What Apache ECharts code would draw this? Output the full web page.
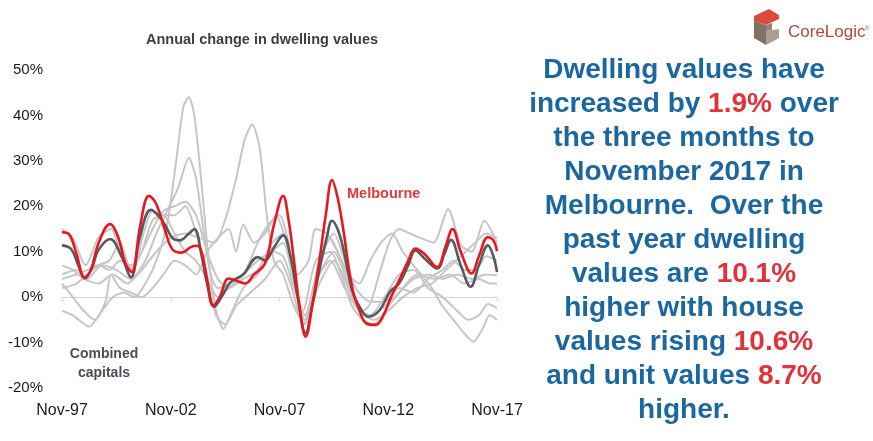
<!DOCTYPE html>
<html><head><meta charset="utf-8">
<script src="https://cdn.jsdelivr.net/npm/echarts@6/dist/echarts.min.js"></script>
<style>html,body{margin:0;padding:0;background:#fff}#c{width:873px;height:441px}</style>
</head><body><div id="c"></div>
<script>
// x = months since Nov-97
const xTickLabels = ['Nov-97', 'Nov-02', 'Nov-07', 'Nov-12', 'Nov-17'];
const yTickLabels = ['-20%', '-10%', '0%', '10%', '20%', '30%', '40%', '50%'];

const melbourne = [[0,14.3],[4,13.8],[8,9.5],[12.5,4.3],[16,6],[20,11.7],[26.5,16.1],[31,13.2],[35,7.4],[38.5,5.5],[43,15.4],[48,22.3],[52,20.5],[57,14.5],[61,10.5],[66,9.8],[71,11],[74.5,11.3],[77,10],[80,4],[83.5,-1.9],[87,0],[92,4.1],[97,3.5],[101,3.0],[106,5],[112,7.4],[117,16],[122,22.3],[125,17],[128,8],[131,-2],[134.4,-8.7],[138,-2],[142,8.1],[145.5,18],[149,25.8],[152,22],[155,15.4],[160,2.3],[164,-2.8],[168,-5.8],[173,-6.1],[177,-4.3],[181.5,0],[186,3.7],[191,8],[195,10.7],[200,9.5],[207,6.6],[211.5,11],[215.5,15],[220,10],[226,5.2],[230,9],[235,13.2],[238,12.5],[240,10.1]];

const combined = [[0,11.4],[5,10.6],[9,7],[12.7,4.1],[17,7],[20,10.3],[26.5,12.8],[33,8.8],[38,4.4],[43,13.2],[49,19.2],[53,18],[57,15.8],[61,13],[65,12.5],[70,14],[73,15],[77,9.2],[80,3],[84,-2.1],[88,0],[93,3.3],[100,5],[108,8.8],[112,8.1],[117,11],[122,13.6],[126,9],[130,0],[134.4,-7.9],[138,-2],[142,6],[146,13],[149,16.8],[152,15],[155,11],[160,1.5],[164,-2],[169,-4.3],[175,-3],[181,1.2],[186,3],[191,7],[195,10.3],[200,8.5],[207,6.3],[211,9.5],[214.6,12.6],[220,7],[225.5,2.3],[230,7],[235,11.4],[238,9],[240,5.5]];

const sydney = [[0,15],[6,13],[13,7],[20,13],[27,15],[33,9],[39,6],[45,14],[50,19],[56,18],[62,18],[68,20],[74,14],[80,5],[85,-4],[90,-6],[96,-2],[104,1],[112,4],[120,8],[126,3],[133,-6],[140,4],[148,13],[154,8],[160,0],[166,-3],[170,-1.5],[175,5],[181,12.5],[186,15],[192,14],[198,13],[205,12],[213,19.4],[220,11.5],[226,10],[233,16.8],[240,12]];

const brisbane = [[0,5],[8,6],[14,4],[22,7],[30,6],[38,4],[46,8],[52,14],[58,19],[64,24],[70,30.7],[74,26],[78,15],[82,5],[86,2],[92,3],[100,5],[108,12],[114,16],[120,18],[126,10],[133,-3],[140,8],[148,10],[154,5],[160,-2],[166,-5],[172,-6],[180,-2],[188,2],[196,5],[206,4],[214,5],[222,3],[230,4],[236,3],[240,3]];

const hobart = [[0,-3],[6,-4],[15,-6.5],[22,-3],[28,0],[34,1],[40,0],[46,3],[52,8],[58,16],[63,30],[67,42],[70,44],[73,40],[77,25],[81,8],[85,-3],[89,-7],[94,-3],[100,2],[108,5],[116,10],[122,12],[128,3],[134,-4],[142,5],[148,8],[156,2],[164,-3],[172,-5],[180,-3],[188,0],[196,2],[204,3],[212,6],[220,9],[228,12],[234,14],[240,13]];

const perth = [[0,7],[6,6],[12,4],[20,3],[28,5],[36,3],[44,6],[52,10],[60,13],[68,14],[76,13],[84,12],[90,17],[96,26],[101,35],[105,38],[109,33],[113,18],[117,8],[122,5],[128,-2],[134,-6],[142,5],[150,10],[156,5],[162,-2],[170,-4],[178,0],[186,5],[194,6],[202,2],[210,0],[218,-3],[224,-5],[230,-4],[235,-1.5],[240,-2.4]];

const adelaide = [[0,4],[8,5],[14,6],[20,7],[26,6],[32,8],[38,7],[44,10],[50,15],[56,19],[62,20],[68,21],[74,18],[80,10],[86,4],[92,2],[100,4],[108,6],[116,12],[122,14],[128,4],[134,-5],[142,3],[150,8],[156,4],[162,-2],[170,-4],[178,-2],[186,1],[194,4],[202,5],[210,4],[218,5],[226,4],[234,5],[240,4.8]];

const darwin = [[0,3],[6,0],[12,-3],[18,-5],[24,-1],[27,5],[32,2],[38,1],[44,0],[50,2],[56,5],[62,8],[68,7],[74,5],[80,10],[86,13],[92,15],[96,10],[100,16],[106,12],[112,14],[118,18],[124,12],[130,5],[136,8],[140,15],[146,14],[152,10],[158,5],[164,3],[170,8],[176,12],[182,14],[188,10],[196,6],[204,2],[210,-2],[216,-5],[222,-8],[227,-9.8],[232,-7],[236,-4],[240,-5]];

const canberra = [[0,2],[8,3],[14,5],[20,7],[26,8],[32,12],[38,6],[44,10],[50,17],[56,18],[62,14],[68,10],[74,8],[80,4],[86,0],[92,2],[100,5],[108,8],[116,10],[122,9],[128,2],[134,-4],[142,8],[150,14],[156,8],[162,2],[170,-1],[178,-1],[186,2],[194,1],[202,4],[210,6],[216,8],[222,6],[228,6],[234,9],[240,8]];

const grays = [sydney, brisbane, hobart, perth, adelaide, darwin, canberra];

const chart = echarts.init(document.getElementById('c'));
const FONT = 'Liberation Sans';

const series = grays.map(d => ({
  type: 'line', data: d, smooth: 0.25, symbol: 'none', silent: true,
  lineStyle: { color: '#c6c6c6', width: 2 }, z: 2
}));
series.push({ type: 'line', data: combined, smooth: 0.4, symbol: 'none', silent: true,
  lineStyle: { color: '#565a5e', width: 2.6 }, z: 3 });
series.push({ type: 'line', data: melbourne, smooth: 0.4, symbol: 'none', silent: true,
  lineStyle: { color: '#e8161e', width: 2.6 }, z: 4 });

const richText =
  '{b|Dwelling values have}\n' +
  '{b|increased by }{r|1.9%}{b| over}\n' +
  '{b|the three months to}\n' +
  '{b|November 2017 in}\n' +
  '{b|Melbourne.  Over the}\n' +
  '{b|past year dwelling}\n' +
  '{b|values are }{r|10.1%}\n' +
  '{b|higher with house}\n' +
  '{b|values rising }{r|10.6%}\n' +
  '{b|and unit values }{r|8.7%}\n' +
  '{b|higher.}';

chart.setOption({
  animation: false,
  backgroundColor: '#ffffff',
  grid: { left: 62, right: 376, top: 70, bottom: 53 },
  xAxis: [{
    type: 'value', min: 0, max: 240, interval: 60, position: 'bottom',
    axisLine: { show: false, onZero: false }, axisTick: { show: false }, splitLine: { show: false },
    axisLabel: { margin: 15, fontSize: 16, color: '#1a1a1a', fontFamily: FONT,
      formatter: v => xTickLabels[Math.round(v / 60)] }
  }, {
    type: 'value', min: 0, max: 240, interval: 60, position: 'top',
    axisLine: { show: true, onZero: true, lineStyle: { color: '#d6d6d6', width: 1 } },
    axisTick: { show: true, inside: true, length: 4, lineStyle: { color: '#d6d6d6' } },
    axisLabel: { show: false }, splitLine: { show: false }
  }],
  yAxis: {
    type: 'value', min: -20, max: 50, interval: 10,
    axisLine: { show: false }, axisTick: { show: false }, splitLine: { show: false },
    axisLabel: { margin: 19, fontSize: 15, color: '#1a1a1a', fontFamily: FONT,
      formatter: v => yTickLabels[Math.round((v + 20) / 10)] }
  },
  series: series,
  graphic: [
    { type: 'text', x: 262, y: 40, style: { text: 'Annual change in dwelling values', align: 'center', verticalAlign: 'middle',
      font: 'bold 14.5px "Liberation Sans"', fill: '#3b3f48' } },
    { type: 'text', left: 347, top: 186, style: { text: 'Melbourne',
      font: 'bold 14.5px "Liberation Sans"', fill: '#dd3a3c' } },
    { type: 'text', x: 104, y: 345, style: { text: 'Combined\ncapitals', align: 'center',
      font: 'bold 14px "Liberation Sans"', fill: '#4a4e58', lineHeight: 19 } },
    { type: 'text', x: 684, y: 53, style: {
      text: richText, align: 'center', verticalAlign: 'top',
      rich: {
        b: { font: 'bold 28px "Liberation Sans"', fill: '#1b679f', color: '#1b679f', lineHeight: 34 },
        r: { font: 'bold 28px "Liberation Sans"', fill: '#e2323a', color: '#e2323a', lineHeight: 34 }
      }
    } },
    { type: 'polygon', shape: { points: [[754,16],[769,9],[779,15],[779,19],[766,25],[754,21]] }, style: { fill: '#de4a3a' } },
    { type: 'polygon', shape: { points: [[754,21],[766,25],[766,45],[754,38]] }, style: { fill: '#7f7166' } },
    { type: 'polygon', shape: { points: [[766,31],[779,29],[779,38],[766,45]] }, style: { fill: '#ab9e92' } },
    { type: 'polygon', shape: { points: [[766,25],[772,23],[772,30],[766,31]] }, style: { fill: '#928478' } },
    { type: 'text', left: 788, top: 24, style: { text: 'CoreLogic', font: '17px "Liberation Sans"', fill: '#b5473d' } },
    { type: 'text', left: 865, top: 25, style: { text: '®', font: '6px "Liberation Sans"', fill: '#b5473d' } }
  ]
});
</script>
</body></html>
